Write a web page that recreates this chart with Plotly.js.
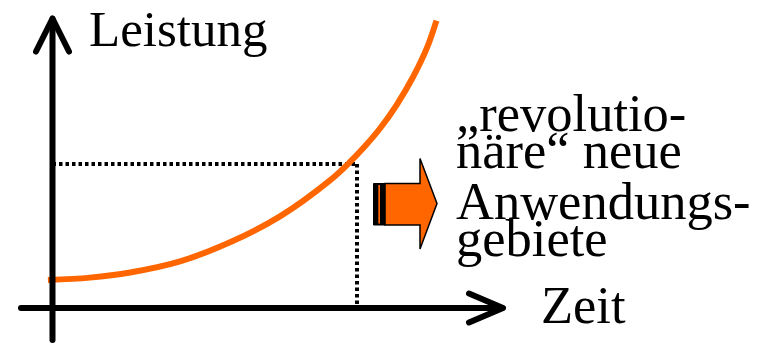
<!DOCTYPE html>
<html>
<head>
<meta charset="utf-8">
<script src="https://cdn.plot.ly/plotly-3.0.1.min.js"></script>
<style>
html,body{margin:0;padding:0;background:#fff;}
#chart{width:771px;height:344px;}
</style>
</head>
<body>
<div id="chart"></div>
<script>
// ---- data (time vs. performance) ----
const zeit     = [-0.15, 1.23, 2.55, 4.19, 5.83, 7.47, 9.11, 9.77, 10.26, 10.76, 11.31, 11.84, 12.30, 12.61];
const leistung = [ 1.94, 2.11, 2.47, 3.24, 4.56, 6.36, 8.86, 10.14, 11.23, 12.48, 14.13, 16.04, 18.08, 19.96];
const refZeit = 10;       // marked point on the time axis
const refLeistung = 10;   // marked performance level
const xLabel = "Zeit";
const yLabel = "Leistung";
const noteLines = ["\u201Erevolutio-", "n\u00E4re\u201C neue", "Anwendungs-", "gebiete"];

// ---- layout helpers (decoration positions in pixels -> axis units) ----
const W = 771, H = 344;
const X0 = 52.5, PXX = 30.45;   // px of t=0, px per time unit
const Y0 = 308,  PXY = 14.4;    // px of P=0, px per performance unit
const xr = [(0 - X0) / PXX, (W - X0) / PXX];
const yr = [(Y0 - H) / PXY, (Y0 - 0) / PXY];
const gx = px => (px - X0) / PXX;
const gy = py => (Y0 - py) / PXY;
const FS = 52.5;
const FONT = "Liberation Serif, Times New Roman, serif";

const traces = [
  { x: [0, refZeit], y: [refLeistung, refLeistung], mode: 'lines',
    line: { color: '#000', width: 4, dash: '3.5px,3px' }, hoverinfo: 'skip' },
  { x: [refZeit, refZeit], y: [refLeistung, 0], mode: 'lines',
    line: { color: '#000', width: 4, dash: '3.5px,3px' }, hoverinfo: 'skip' },
  { x: zeit, y: leistung, mode: 'lines',
    line: { color: '#FF6600', width: 6, shape: 'spline', smoothing: 1 }, hoverinfo: 'skip' }
];

function path(pts, close) {
  return pts.map((p, i) => (i ? 'L' : 'M') + gx(p[0]) + ',' + gy(p[1])).join(' ') + (close ? ' Z' : '');
}

const shapes = [
  // y axis
  { type: 'path', xref: 'x', yref: 'y', path: path([[X0, 340], [X0, 19]]), line: { color: '#000', width: 6 }, layer: 'above' },
  { type: 'path', xref: 'x', yref: 'y', path: path([[36, 51.5], [X0, 18.5], [69, 51.5]]), line: { color: '#000', width: 6 }, layer: 'above' },
  // x axis
  { type: 'path', xref: 'x', yref: 'y', path: path([[21, Y0], [502, Y0]]), line: { color: '#000', width: 6 }, layer: 'above' },
  { type: 'path', xref: 'x', yref: 'y', path: path([[469, 293.5], [503, Y0], [469, 322.5]]), line: { color: '#000', width: 6 }, layer: 'above' },
  // block arrow stripes
  { type: 'path', xref: 'x', yref: 'y', path: path([[373.5, 183.5], [385, 183.5], [385, 225], [373.5, 225]], true),
    fillcolor: '#000', line: { color: '#000', width: 1 }, layer: 'above' },
  { type: 'path', xref: 'x', yref: 'y', path: path([[378.3, 185], [380, 185], [380, 223.5], [378.3, 223.5]], true),
    fillcolor: '#FF6600', line: { width: 0 }, layer: 'above' },
  // block arrow body
  { type: 'path', xref: 'x', yref: 'y',
    path: path([[385, 183.5], [420, 183.5], [420, 158.5], [437, 203.5], [420, 249], [420, 225], [385, 225]], true),
    fillcolor: '#FF6600', line: { color: '#000', width: 1.5 }, layer: 'above' }
];

const ann = [];
function addText(txt, pxLeft, baseline, fs) {
  ann.push({ text: txt, xref: 'x', yref: 'y', x: gx(pxLeft), y: gy(baseline - 0.3375 * fs),
    xanchor: 'left', yanchor: 'middle', showarrow: false, borderpad: 0,
    font: { family: FONT, size: fs, color: '#000' } });
}
addText(yLabel, 88, 46, 51);
addText(xLabel, 540, 323, FS);
const noteBase = [131, 168, 219, 256];
noteLines.forEach((t, i) => addText(t, 455, noteBase[i], FS));

const layout = {
  width: W, height: H,
  margin: { l: 0, r: 0, t: 0, b: 0, pad: 0 },
  paper_bgcolor: '#fff', plot_bgcolor: '#fff',
  showlegend: false,
  xaxis: { range: xr, visible: false, fixedrange: true },
  yaxis: { range: yr, visible: false, fixedrange: true },
  shapes: shapes,
  annotations: ann
};

Plotly.newPlot('chart', traces, layout, { staticPlot: true, displayModeBar: false }).then(() => {
  document.querySelectorAll('.shapelayer path').forEach((p, i) => {
    if (i < 4) { p.style.strokeLinecap = 'round'; p.style.strokeLinejoin = 'round'; }
  });
});
</script>
</body>
</html>
